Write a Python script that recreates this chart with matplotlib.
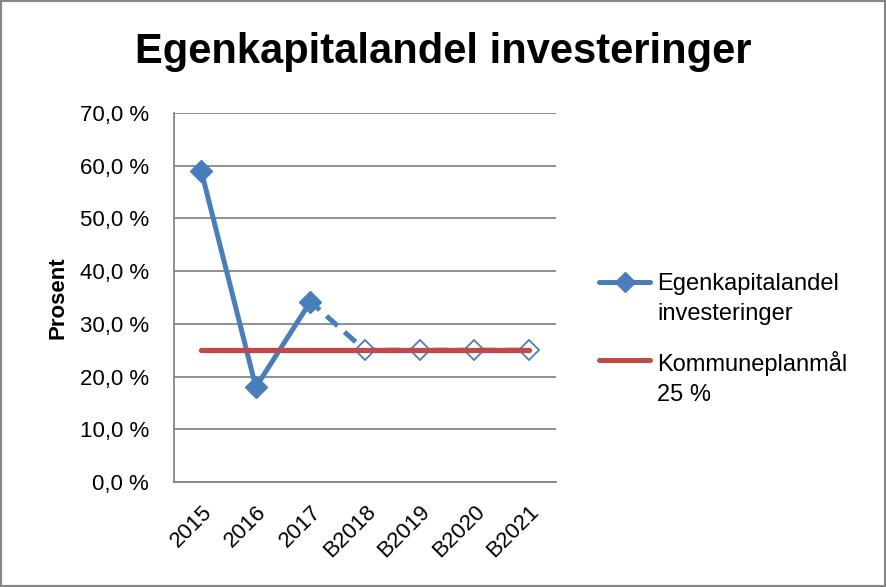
import matplotlib
matplotlib.use("Agg")
import matplotlib.pyplot as plt
from matplotlib.lines import Line2D
from matplotlib.patches import Rectangle

categories = ["2015", "2016", "2017", "B2018", "B2019", "B2020", "B2021"]
actual = [59.0, 18.0, 34.2]
budget = [25.0, 25.0, 25.0, 25.0]
target = [25.0] * 7
yticks = [0, 10, 20, 30, 40, 50, 60, 70]

plt.rcParams['font.family'] = ['Liberation Sans', 'DejaVu Sans']

blue = "#4A7EBB"
red = "#BE4B48"
grid = "#868686"

fig = plt.figure(figsize=(8.86, 5.87), dpi=100)
ax = fig.add_axes([174/886, 1-482/587, (556-174)/886, (482-113)/587])

x = list(range(len(categories)))
xa = x[:len(actual)]
yb = [actual[-1]] + budget
xb = x[len(actual)-1:]

ax.plot(xb, yb, color=blue, lw=3.6, ls=(0.5, (3.0, 1.8)), solid_capstyle='butt', zorder=3)
ax.plot(xa, actual, color=blue, lw=3.6, marker='D', ms=11, mfc=blue, mec=blue, zorder=4)
ax.plot(x[len(actual):], budget, ls='none', marker='D', ms=10, mfc='white', mec=blue, mew=1.3, zorder=4)
ax.plot(x, target, color=red, lw=3.8, solid_capstyle='round', zorder=5)

ax.set_xlim(-0.5, len(categories) - 0.5)
ax.set_ylim(0, 70)
ax.set_yticks(yticks)
ax.set_yticklabels([f"{v:.1f} %".replace('.', ',') for v in yticks], fontsize=16)
ax.set_xticks(x)
ax.set_xticklabels(categories, fontsize=16, rotation=45, ha='right', va='top', rotation_mode='anchor')
ax.tick_params(axis='x', length=0, pad=14)
ax.tick_params(axis='y', length=0, pad=18)
ax.yaxis.grid(True, color=grid, lw=1.3)
ax.set_axisbelow(True)
for s in ['top', 'right']:
    ax.spines[s].set_visible(False)
for s in ['left', 'bottom']:
    ax.spines[s].set_color(grid)
    ax.spines[s].set_linewidth(1.3)

ax.set_ylabel("Prosent", fontsize=16, fontweight='bold', labelpad=8)

fig.text(443/886, 1-52/587, "Egenkapitalandel investeringer", fontsize=30, fontweight='bold',
         ha='center', va='center')

# legend drawn manually (handle aligned with first text line, as in reference)
leg_items = [("Egenkapitalandel\ninvesteringer", blue, 'D', 282),
             ("Kommuneplanmål\n25 %", red, None, 360)]
for label, col, mk, ypix in leg_items:
    yf = 1 - ypix/587
    fig.add_artist(Line2D([599/886, 650/886], [yf, yf], transform=fig.transFigure,
                          color=col, lw=3.6, solid_capstyle='round'))
    if mk:
        fig.add_artist(Line2D([624.5/886], [yf], transform=fig.transFigure,
                              color=col, marker=mk, ms=10, ls='none'))
    fig.text(657/886, yf + 9/587, label, fontsize=17, ha='left', va='top',
             linespacing=1.45, transform=fig.transFigure)

fig.add_artist(Rectangle((0.001, 0.001), 0.998, 0.997, transform=fig.transFigure,
                         fill=False, edgecolor=grid, lw=1.5))

fig.savefig("out.png", dpi=100)
